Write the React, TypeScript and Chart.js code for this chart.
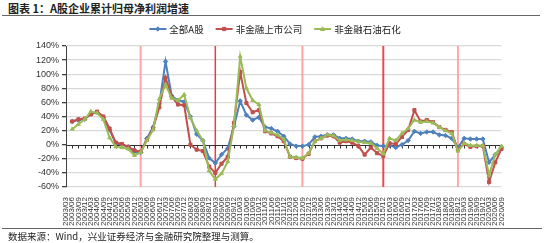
import React, { useEffect, useRef } from 'react';
import { Chart, registerables } from 'chart.js';

Chart.register(...registerables);

// ---------- data ----------
const YEARS = [2003, 2004, 2005, 2006, 2007, 2008, 2009, 2010, 2011, 2012, 2013, 2014, 2015, 2016, 2017, 2018, 2019, 2020];
const MONTHS = ['03', '06', '09', '12'];
const LAST_LABEL = '2020/09';

const CATEGORIES: string[] = [];
for (const y of YEARS) {
  for (const m of MONTHS) {
    const lab = `${y}/${m}`;
    if (CATEGORIES.length && CATEGORIES[CATEGORIES.length - 1] === LAST_LABEL) break;
    CATEGORIES.push(lab);
  }
}

const SERIES_NAMES = ['全部A股', '非金融上市公司', '非金融石油石化'];

const ALL_A = [
  null, 33, 35, 36, 44, 46, 39, 21, 2, 0, -3, -10,
  -11, 9, 25, 58, 118, 69, 63, 61, 40, 15, 6, -19,
  -26, -14, -5, 26, 62, 42, 35, 39, 25, 23, 19, 12,
  1, -2, -2, 0, 11, 12, 14, 14, 9, 9, 8, 5,
  5, 4, -1, -2, -1, -4, 0, 6, 19, 16, 18, 18,
  14, 13, 9, -4, 9, 8, 8, 8, -25, -14, -4,
];
const NON_FIN = [
  null, 33, 36, 37, 43, 47, 40, 23, 3, 1, -3, -8,
  -10, 7, 23, 53, 95, 68, 57, 56, 0, -7, -9, -31,
  -40, -27, -17, 31, 103, 59, 46, 49, 19, 16, 12, 5,
  -17, -19, -20, -13, 5, 9, 13, 12, 3, 5, 3, -2,
  -14, -4, -12, -16, 2, 1, 11, 21, 49, 33, 35, 32,
  25, 21, 18, -7, 1, -3, -2, -2, -53, -25, -6,
];
const NON_FIN_EX_PETRO = [
  null, 22, 29, 36, 47, 45, 36, 10, -3, -4, -6, -15,
  -11, 6, 21, 65, 85, 66, 63, 71, 38, 20, 6, -37,
  -49, -41, -24, 27, 125, 80, 63, 57, 20, 17, 14, 8,
  -17, -18, -19, -12, 5, 9, 14, 13, 6, 7, 6, 4,
  3, 2, -5, -13, 9, 6, 16, 23, 35, 32, 33, 31,
  25, 20, 16, -9, 2, -1, -1, -1, -43, -14, -2,
];

const Y_MIN = -60;
const Y_MAX = 140;
const Y_STEP = 20;

const MARKER_DATES = ['2006/03', '2009/03', '2012/09', '2015/12', '2018/12'];
const MARKER_COLORS = ['#FFA3A3', '#EE3B3B', '#FFA3A3', '#F04848', '#FF9090'];
const MARKER_WIDTHS = [2, 1.5, 2, 2, 1.5];

const COLORS = ['#4F81BD', '#C0504D', '#9BBB59'];
const POINT_STYLES = ['rectRot', 'rect', 'triangle'];

function drawMarker(ctx: CanvasRenderingContext2D, style: string, x: number, y: number, r: number, color: string) {
  ctx.save();
  ctx.fillStyle = color;
  ctx.strokeStyle = color;
  ctx.lineWidth = 1;
  ctx.beginPath();
  if (style === 'rectRot') {
    ctx.moveTo(x, y - r); ctx.lineTo(x + r, y); ctx.lineTo(x, y + r); ctx.lineTo(x - r, y);
  } else if (style === 'rect') {
    ctx.rect(x - r * 0.75, y - r * 0.75, r * 1.5, r * 1.5);
  } else {
    ctx.moveTo(x, y - r); ctx.lineTo(x + r, y + r * 0.7); ctx.lineTo(x - r, y + r * 0.7);
  }
  ctx.closePath();
  ctx.fill();
  ctx.stroke();
  ctx.restore();
}

const decorPlugin = {
  id: 'decor',
  beforeDatasetsDraw(chart: any) {
    const { ctx, chartArea, scales } = chart;
    const xs = scales.x;
    const ys = scales.y;
    // vertical marker lines
    MARKER_DATES.forEach((d, i) => {
      const idx = CATEGORIES.indexOf(d);
      if (idx < 0) return;
      const x = xs.getPixelForValue(idx);
      ctx.save();
      ctx.strokeStyle = MARKER_COLORS[i];
      ctx.lineWidth = MARKER_WIDTHS[i];
      ctx.beginPath();
      ctx.moveTo(x, chartArea.top);
      ctx.lineTo(x, chartArea.bottom);
      ctx.stroke();
      ctx.restore();
    });
    // zero axis line with tick marks
    const y0 = Math.round(ys.getPixelForValue(0)) + 0.5;
    ctx.save();
    ctx.strokeStyle = '#333';
    ctx.lineWidth = 1;
    ctx.beginPath();
    ctx.moveTo(chartArea.left, y0);
    ctx.lineTo(chartArea.right, y0);
    for (let i = 0; i < CATEGORIES.length; i++) {
      const x = Math.round(xs.getPixelForValue(i)) + 0.5;
      ctx.moveTo(x, y0);
      ctx.lineTo(x, y0 + 3);
    }
    ctx.stroke();
    ctx.restore();
  },
  afterDraw(chart: any) {
    const { ctx } = chart;
    ctx.save();
    ctx.font = '9.5px "Noto Sans CJK SC", sans-serif';
    ctx.textBaseline = 'middle';
    const lineLen = 17;
    const gapText = 3;
    const gapItem = 12;
    const widths = SERIES_NAMES.map((n) => lineLen + gapText + ctx.measureText(n).width);
    const total = widths.reduce((a, b) => a + b, 0) + gapItem * (SERIES_NAMES.length - 1);
    let x = 275 - total / 2;
    const y = 29;
    SERIES_NAMES.forEach((n, i) => {
      ctx.strokeStyle = COLORS[i];
      ctx.lineWidth = 2;
      ctx.beginPath();
      ctx.moveTo(x, y);
      ctx.lineTo(x + lineLen, y);
      ctx.stroke();
      drawMarker(ctx, POINT_STYLES[i], x + lineLen / 2, y, 2.2, COLORS[i]);
      ctx.fillStyle = '#222';
      ctx.fillText(n, x + lineLen + gapText, y + 0.5);
      x += widths[i] + gapItem;
    });
    ctx.restore();
  },
};

export default function App() {
  const ref = useRef<HTMLCanvasElement | null>(null);

  useEffect(() => {
    if (!ref.current) return;
    const series = [ALL_A, NON_FIN, NON_FIN_EX_PETRO];
    const chart = new Chart(ref.current, {
      type: 'line',
      data: {
        labels: CATEGORIES,
        datasets: series.map((d, i) => ({
          label: SERIES_NAMES[i],
          data: d,
          borderColor: COLORS[i],
          backgroundColor: COLORS[i],
          borderWidth: 2,
          pointStyle: POINT_STYLES[i] as any,
          pointRadius: 2.2,
          pointBorderWidth: 1,
          pointBackgroundColor: COLORS[i],
          pointBorderColor: COLORS[i],
          tension: 0,
          spanGaps: false,
          order: 3 - i,
        })),
      },
      options: {
        animation: false,
        responsive: false,
        devicePixelRatio: 1,
        layout: { padding: { top: 46, right: 48.5, bottom: 0, left: 0 } },
        plugins: {
          legend: { display: false },
          tooltip: { enabled: false },
        },
        scales: {
          x: {
            type: 'category',
            offset: false,
            grid: { display: false },
            border: { display: false },
            ticks: {
              autoSkip: false,
              maxRotation: 90,
              minRotation: 90,
              padding: 2,
              color: '#333',
              font: { size: 8, family: '"Liberation Sans", Arial, sans-serif' },
            },
            afterFit: (s: any) => { s.height = 56; },
          },
          y: {
            min: Y_MIN,
            max: Y_MAX,
            ticks: {
              stepSize: Y_STEP,
              padding: 3,
              color: '#333',
              font: { size: 9, family: '"Liberation Sans", Arial, sans-serif' },
              callback: (v: any) => `${v}%`,
            },
            grid: {
              color: (c: any) => (c.tick && c.tick.value === 0 ? 'rgba(0,0,0,0)' : '#d9d9d9'),
              lineWidth: 1.3,
              drawTicks: true,
              tickLength: 4,
              tickColor: '#404040',
            },
            border: { display: true, color: '#404040', width: 1 },
            afterFit: (s: any) => { s.width = 66; },
          },
        },
      },
      plugins: [decorPlugin],
    });
    return () => chart.destroy();
  }, []);

  return (
    <div style={{ position: 'absolute', left: 0, top: 0, width: 550, height: 243, background: '#fff', overflow: 'hidden' }}>
      <div
        style={{
          position: 'absolute', left: 8, top: 1, fontSize: 11, lineHeight: '14px', fontWeight: 'bold',
          fontFamily: '"Noto Sans CJK SC", sans-serif', color: '#222', whiteSpace: 'nowrap',
        }}
      >
        图表 1：A股企业累计归母净利润增速
      </div>
      <div style={{ position: 'absolute', left: 2, top: 15, width: 538, height: 1, background: '#666' }} />
      <canvas ref={ref} width={550} height={243} style={{ position: 'absolute', left: 0, top: 0 }} />
      <div style={{ position: 'absolute', left: 2, top: 228, width: 540, height: 1, background: '#666' }} />
      <div
        style={{
          position: 'absolute', left: 8, top: 230, fontSize: 9.5, lineHeight: '13px',
          fontFamily: '"Noto Sans CJK SC", sans-serif', color: '#222', whiteSpace: 'nowrap',
        }}
      >
        数据来源：Wind，兴业证券经济与金融研究院整理与测算。
      </div>
    </div>
  );
}
